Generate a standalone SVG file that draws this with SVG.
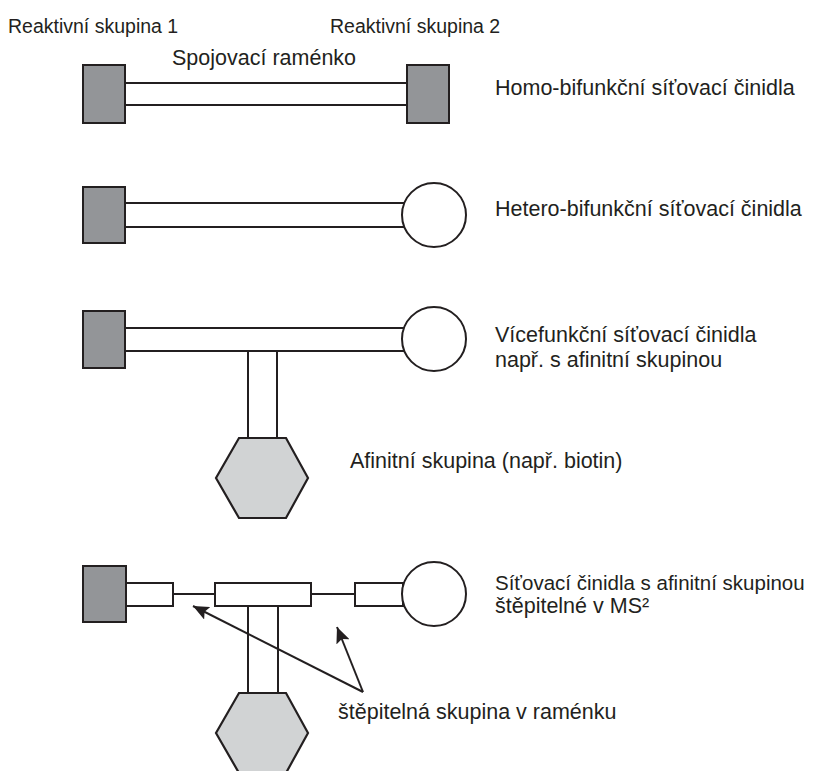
<svg xmlns="http://www.w3.org/2000/svg" width="818" height="771" viewBox="0 0 818 771">
<style>
.t{font-family:"Liberation Sans",Arial,sans-serif;fill:#231f20;font-size:21.5px}
.s{font-size:19.5px}
.m{font-size:20.5px}
.sq{fill:#939598;stroke:#231f20;stroke-width:2}
.bar{fill:#ffffff;stroke:#231f20;stroke-width:2}
.hex{fill:#d1d3d4;stroke:#231f20;stroke-width:2.2;stroke-linejoin:miter}
.ln{fill:none;stroke:#231f20;stroke-width:2}
</style>
<defs>
<marker id="ah" markerUnits="userSpaceOnUse" markerWidth="18" markerHeight="14" refX="16" refY="7" orient="auto">
<path d="M0,0 L16,7 L0,14 L3,7 z" fill="#231f20"/>
</marker>
</defs>
<rect width="818" height="771" fill="#ffffff"/>

<g id="labels-top">
<text class="t s" x="8" y="33">Reaktivní skupina 1</text>
<text class="t s" x="330" y="33">Reaktivní skupina 2</text>
<text class="t" x="172" y="65">Spojovací raménko</text>
</g>

<g id="homo">
<rect class="bar" x="125" y="83" width="282" height="22"/>
<rect class="sq" x="83" y="65" width="42" height="58"/>
<rect class="sq" x="407" y="65" width="42" height="58"/>
<text class="t" x="495" y="95">Homo-bifunkční síťovací činidla</text>
</g>

<g id="hetero">
<rect class="bar" x="125" y="203" width="280" height="24"/>
<rect class="sq" x="83" y="187" width="42" height="56"/>
<circle class="bar" cx="434" cy="215" r="32"/>
<text class="t" x="495" y="216">Hetero-bifunkční síťovací činidla</text>
</g>

<g id="multi">
<rect class="bar" x="248" y="351" width="29" height="87"/>
<rect class="bar" x="125" y="328" width="280" height="23"/>
<rect class="sq" x="83" y="311" width="42" height="57"/>
<circle class="bar" cx="434" cy="339" r="32"/>
<polygon class="hex" points="239,438 286,438 308,478 286,518 239,518 216,478"/>
<text class="t" x="495" y="342">Vícefunkční síťovací činidla</text>
<text class="t" x="495" y="367">např. s afinitní skupinou</text>
<text class="t" x="350" y="468">Afinitní skupina (např. biotin)</text>
</g>

<g id="cleavable">
<rect class="bar" x="248" y="606" width="30" height="87"/>
<line class="ln" x1="173" y1="594" x2="215" y2="594"/>
<line class="ln" x1="311" y1="594" x2="355" y2="594"/>
<rect class="bar" x="126" y="583" width="47" height="23"/>
<rect class="bar" x="215" y="583" width="96" height="23"/>
<rect class="bar" x="355" y="583" width="48" height="23"/>
<rect class="sq" x="83" y="566" width="43" height="56"/>
<circle class="bar" cx="434" cy="594" r="32"/>
<polygon class="hex" points="239,693 286,693 308,733 286,773 239,773 216,733"/>
<text class="t m" x="495" y="590">Síťovací činidla s afinitní skupinou</text>
<text class="t" x="495" y="613">štěpitelné v MS²</text>
<text class="t" x="338" y="719">štěpitelná skupina v raménku</text>
</g>

<g id="connectors">
<line class="ln" x1="363" y1="692" x2="193" y2="606" marker-end="url(#ah)"/>
<line class="ln" x1="363" y1="692" x2="337" y2="627" marker-end="url(#ah)"/>
</g>
</svg>
